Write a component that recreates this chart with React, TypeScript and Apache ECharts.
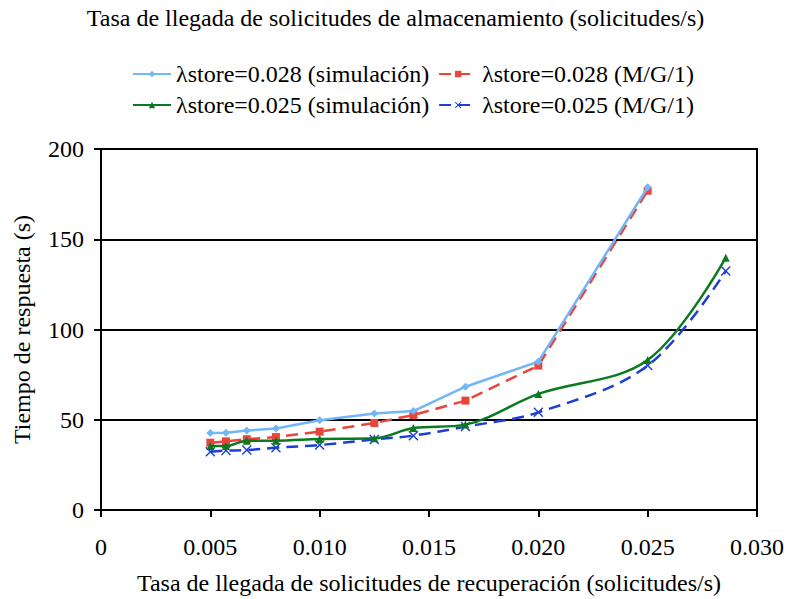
import React, { useEffect, useRef } from "react";
import * as echarts from "echarts";

// Retrieval request arrival rates (requests/s)
const rates = [0.005, 1 / 175, 1 / 150, 0.008, 0.01, 0.0125, 1 / 70, 1 / 60, 0.02, 0.025, 1 / 35];

// Response times (s)
const sim028 = [42.6, 42.8, 44.0, 45.2, 49.7, 53.4, 54.8, 68.3, 82.2, 178.8];
const mg1028 = [37.3, 38.0, 39.2, 40.4, 43.4, 48.2, 52.6, 60.6, 80.0, 176.9];
const sim025 = [35.5, 35.5, 38.4, 38.4, 39.3, 39.7, 45.4, 47.3, 64.3, 83.1, 139.8];
const mg1025 = [32.3, 32.9, 33.2, 34.5, 36.0, 39.1, 41.2, 46.2, 54.1, 80.0, 132.4];

const seriesNames = [
  "λstore=0.028 (simulación)",
  "λstore=0.028 (M/G/1)",
  "λstore=0.025 (simulación)",
  "λstore=0.025 (M/G/1)",
];

const xTicks = [0, 0.005, 0.01, 0.015, 0.02, 0.025, 0.03];

const FONT = "Liberation Serif";
const FS = 24;
const CROSS = "path://M0,1L1,0L5,4L9,0L10,1L6,5L10,9L9,10L5,6L1,10L0,9L4,5Z";

const pairs = (ys: number[]) => ys.map((y, i) => [rates[i], y]);

export default function App() {
  const ref = useRef<HTMLDivElement>(null);

  useEffect(() => {
    if (!ref.current) return;
    const chart = echarts.init(ref.current, null, { renderer: "svg" });
    const txt = { fontFamily: FONT, fontSize: FS, color: "#000" };
    chart.setOption({
      animation: false,
      backgroundColor: "#fff",
      textStyle: { fontFamily: FONT },
      title: {
        text: "Tasa de llegada de solicitudes de almacenamiento (solicitudes/s)",
        left: "center",
        top: 1,
        textStyle: { ...txt, fontWeight: "normal" },
      },
      legend: [
        {
          data: [seriesNames[0], seriesNames[1]],
          left: 127,
          top: 57,
          itemWidth: 38,
          itemHeight: 8,
          itemGap: 9,
          textStyle: txt,
        },
        {
          data: [seriesNames[2], seriesNames[3]],
          left: 127,
          top: 88,
          itemWidth: 38,
          itemHeight: 8,
          itemGap: 9,
          textStyle: txt,
        },
      ],
      grid: {
        left: 101,
        right: 34,
        top: 149,
        bottom: 89,
        show: true,
        borderColor: "#000",
        borderWidth: 2,
        containLabel: false,
        outerBoundsMode: "none",
      },
      xAxis: {
        type: "value",
        min: xTicks[0],
        max: xTicks[xTicks.length - 1],
        interval: 0.005,
        name: "Tasa de llegada de solicitudes de recuperación (solicitudes/s)",
        nameLocation: "middle",
        nameGap: 61,
        nameTextStyle: txt,
        axisLine: { lineStyle: { color: "#000", width: 2 } },
        axisTick: { show: true, length: 7, lineStyle: { color: "#000", width: 2 } },
        axisLabel: {
          ...txt,
          margin: 25,
          formatter: (v: number) => (v === 0 ? "0" : v.toFixed(3)),
        },
        splitLine: { show: false },
      },
      yAxis: {
        type: "value",
        min: 0,
        max: 200,
        interval: 50,
        name: "Tiempo de respuesta (s)",
        nameLocation: "middle",
        nameGap: 67,
        nameTextStyle: txt,
        axisLine: { show: true, lineStyle: { color: "#000", width: 2 } },
        axisTick: { show: true, length: 7, lineStyle: { color: "#000", width: 2 } },
        axisLabel: { ...txt, margin: 17 },
        splitLine: { show: true, lineStyle: { color: "#000", width: 2 } },
      },
      series: [
        {
          name: seriesNames[0],
          type: "line",
          data: pairs(sim028),
          symbol: "diamond",
          symbolSize: 8,
          color: "#72B6F7",
          lineStyle: { width: 2.5, color: "#72B6F7" },
          z: 4,
        },
        {
          name: seriesNames[1],
          type: "line",
          data: pairs(mg1028),
          symbol: "rect",
          symbolSize: 8,
          color: "#E8453C",
          lineStyle: { width: 2.5, color: "#E8453C", type: [12, 7] },
          z: 3,
        },
        {
          name: seriesNames[2],
          type: "line",
          data: pairs(sim025),
          symbol: "triangle",
          symbolSize: 8,
          smooth: 0.35,
          color: "#0B7A1E",
          lineStyle: { width: 2.5, color: "#0B7A1E" },
          z: 4,
        },
        {
          name: seriesNames[3],
          type: "line",
          data: pairs(mg1025),
          symbol: CROSS,
          symbolSize: 10,
          smooth: 0.35,
          color: "#1C3FD6",
          lineStyle: { width: 2.5, color: "#1C3FD6", type: [12, 7] },
          z: 3,
        },
      ],
    });
    return () => chart.dispose();
  }, []);

  return <div ref={ref} style={{ width: 791, height: 599, position: "absolute", left: 0, top: 0 }} />;
}
